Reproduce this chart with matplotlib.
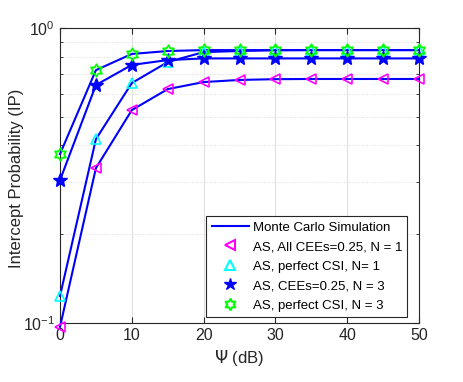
import numpy as np
import matplotlib.pyplot as plt
from matplotlib.path import Path
from matplotlib.ticker import NullFormatter

plt.rcParams['font.family'] = ['Liberation Sans', 'DejaVu Sans']
plt.rcParams['font.size'] = 10

psi = [0, 5, 10, 15, 20, 25, 30, 35, 40, 45, 50]
ip_all_cee_n1 = [0.097, 0.335, 0.527, 0.621, 0.656, 0.667, 0.671, 0.672, 0.672, 0.672, 0.672]
ip_perfect_n1 = [0.1235, 0.42, 0.651, 0.767, 0.829, 0.836, 0.841, 0.842, 0.842, 0.842, 0.842]
ip_cee_n3 = [0.305, 0.641, 0.75, 0.779, 0.789, 0.789, 0.789, 0.789, 0.789, 0.789, 0.789]
ip_perfect_n3 = [0.374, 0.72, 0.817, 0.836, 0.842, 0.842, 0.842, 0.842, 0.842, 0.842, 0.842]

labels = ['AS, All CEEs=0.25, N = 1', 'AS, perfect CSI, N= 1',
          'AS, CEEs=0.25, N = 3', 'AS, perfect CSI, N = 3']

# hexagram marker (star of david outline)
ang = np.pi / 2 + np.arange(12) * np.pi / 6
rad = np.where(np.arange(12) % 2 == 0, 1.0, 1 / np.sqrt(3))
verts = np.column_stack([rad * np.cos(ang), rad * np.sin(ang)])
verts = np.vstack([verts, verts[:1]])
hexagram = Path(verts, [Path.MOVETO] + [Path.LINETO] * 11 + [Path.CLOSEPOLY])

fig = plt.figure(figsize=(4.63, 3.82), dpi=100)
ax = fig.add_axes([0.1296, 0.1545, 0.7754, 0.772])

blue = (0, 0, 1)
series = [ip_all_cee_n1, ip_perfect_n1, ip_cee_n3, ip_perfect_n3]
for s in series:
    ax.plot(psi, s, color=blue, lw=1.5, clip_on=False, zorder=3)

ax.plot(psi, ip_all_cee_n1, ls='none', marker='<', ms=7.5, mfc='none', mec='magenta', mew=1.2, clip_on=False, zorder=4)
ax.plot(psi, ip_perfect_n1, ls='none', marker='^', ms=7.5, mfc='none', mec='cyan', mew=1.2, clip_on=False, zorder=4)
ax.plot(psi, ip_cee_n3, ls='none', marker='*', ms=10, mfc=blue, mec=blue, mew=1, clip_on=False, zorder=4)
ax.plot(psi, ip_perfect_n3, ls='none', marker=hexagram, ms=9, mfc='none', mec=(0, 1, 0), mew=1.3, clip_on=False, zorder=4)

# legend proxies
h0, = ax.plot([], [], color=blue, lw=1.5)
h1, = ax.plot([], [], ls='none', marker='<', ms=7, mfc='none', mec='magenta', mew=1.5)
h2, = ax.plot([], [], ls='none', marker='^', ms=7, mfc='none', mec='cyan', mew=1.5)
h3, = ax.plot([], [], ls='none', marker='*', ms=9, mfc=blue, mec=blue)
h4, = ax.plot([], [], ls='none', marker=hexagram, ms=8, mfc='none', mec=(0, 1, 0), mew=1.5)

leg = ax.legend([h0, h1, h2, h3, h4], ['Monte Carlo Simulation'] + labels,
                loc='lower right', bbox_to_anchor=(0.975, 0.012), fancybox=False,
                edgecolor='#262626', framealpha=1, borderpad=0.4, labelspacing=0.55,
                handlelength=2.8, handletextpad=0.3, borderaxespad=0.2, fontsize=9.5)
leg.get_frame().set_linewidth(0.8)

ax.set_yscale('log')
ax.set_xlim(0, 50)
ax.set_ylim(0.1, 1)
ax.set_xticks(range(0, 51, 10))
ax.yaxis.set_minor_formatter(NullFormatter())
ax.grid(True, which='major', color='#dcdcdc', lw=0.7)
ax.grid(True, which='minor', axis='y', color='#dcdcdc', lw=0.7, ls=':')
ax.tick_params(which='both', direction='in', top=True, right=True, colors='#262626', labelsize=11.5)
ax.tick_params(axis='x', which='minor', top=False, bottom=False)
ax.tick_params(which='major', length=4)
ax.tick_params(which='minor', length=2)
for sp in ax.spines.values():
    sp.set_color('#262626')
    sp.set_linewidth(0.8)

ax.set_xlabel(r'$\Psi$ (dB)', color='#262626', fontsize=12)
ax.set_ylabel('Intercept Probability (IP)', color='#262626', fontsize=12)
ax.yaxis.set_label_coords(-0.1, 0.49)

fig.savefig('out.png', dpi=100)
